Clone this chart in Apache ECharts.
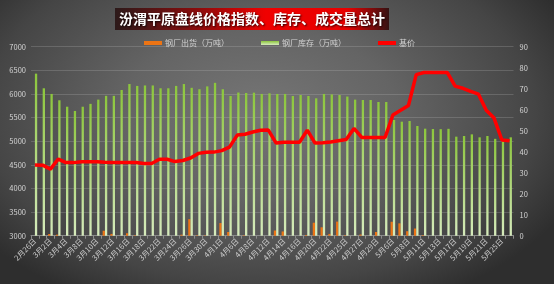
<!DOCTYPE html>
<html><head><meta charset="utf-8">
<script src="https://cdn.jsdelivr.net/npm/echarts@6/dist/echarts.min.js"></script>
<style>
html,body{margin:0;padding:0;}
#c{width:554px;height:284px;background:radial-gradient(ellipse 62% 75% at 47% 40%, #767676 0%, #646464 40%, #454545 80%, #2e2e2e 100%);}
</style></head><body>
<div id="c"></div>
<script>
const categories = ['2月26日','3月1日','3月2日','3月3日','3月4日','3月5日','3月8日','3月9日','3月10日','3月11日','3月12日','3月15日','3月16日','3月17日','3月18日','3月19日','3月22日','3月23日','3月24日','3月25日','3月26日','3月29日','3月30日','3月31日','4月1日','4月2日','4月6日','4月7日','4月8日','4月9日','4月12日','4月13日','4月14日','4月15日','4月16日','4月19日','4月20日','4月21日','4月22日','4月23日','4月25日','4月26日','4月27日','4月28日','4月29日','4月30日','5月6日','5月7日','5月8日','5月10日','5月11日','5月12日','5月13日','5月14日','5月17日','5月18日','5月19日','5月20日','5月21日','5月24日','5月25日','5月26日'];
const shipments = [3000,3000,3036,3022,3000,3000,3000,3000,3000,3105,
3038,3000,3052,3010,3000,3000,3000,3000,3000,3022,
3350,3010,3008,3000,3268,3078,3000,3010,3000,3000,
3000,3110,3090,3000,3000,3014,3275,3178,3038,3298,
3010,3000,3025,3000,3078,3000,3295,3262,3095,3152,
3012,3000,3000,3000,3000,3000,3000,3000,3000,3000,3000,3000];
const inventory = [6430,6120,6000,5866,5730,5640,5730,5790,5880,5960,
5960,6084,6210,6170,6180,6180,6120,6120,6170,6210,
6130,6100,6160,6235,6100,5957,6030,6020,6027,6000,
6013,6000,6000,5957,5978,5957,5908,6000,5990,5978,
5945,5880,5872,5872,5830,5830,5449,5413,5427,5322,
5265,5258,5255,5262,5096,5110,5145,5082,5110,5050,5040,5082];
const basePrice = [33.7,33.6,31.7,36.5,34.8,34.8,35.2,35.2,35.2,35.0,
34.9,34.9,34.9,34.9,34.4,34.4,36.4,36.4,35.3,35.8,
37.0,39.2,39.7,39.8,40.5,42.2,47.9,48.3,49.4,50.2,
50.3,44.1,44.5,44.5,44.5,50.3,44.1,44.3,44.6,45.2,
45.8,51.1,46.8,46.8,46.8,46.8,57.5,59.7,62.0,76.7,
77.7,77.7,77.7,77.7,71.2,70.2,68.7,67.4,59.7,56.0,45.6,45.2];
const leftTicks = {min:3000, max:7000, step:500};
const rightTicks = {min:0, max:90, step:10};
const titleText = '汾渭平原盘线价格指数、库存、成交量总计';
const names = ['钢厂出货（万吨）','钢厂库存（万吨）','基价'];

const FONT = '"Noto Sans CJK SC", sans-serif';
const chart = echarts.init(document.getElementById('c'), null, {renderer:'canvas'});
chart.setOption({
  backgroundColor: 'transparent',
  animation: false,
  textStyle: {fontFamily: FONT},
  title: {
    text: titleText,
    left: 115, top: 8,
    padding: [4, 4, 4, 4],
    backgroundColor: {type:'linear', x:0, y:0, x2:1, y2:0, colorStops:[
      {offset:0, color:'#2c1a1a'},{offset:0.3, color:'#8a0c0c'},{offset:0.55, color:'#f00000'},
      {offset:0.85, color:'#e80000'},{offset:1, color:'#341212'}]},
    textStyle: {color:'#fff', fontSize:14, fontWeight:'bold', fontFamily:FONT,
      textShadowColor:'rgba(0,0,0,0.8)', textShadowBlur:2, textShadowOffsetX:1, textShadowOffsetY:1}
  },
  legend: {
    data: names,
    left: 139, top: 34,
    icon: 'rect', itemWidth: 18, itemHeight: 4, itemGap: 32,
    textStyle: {color:'#d4d4d4', fontSize:8, fontFamily:FONT, padding:[0,0,0,-2]}
  },
  grid: {left:31, right:40.5, top:46.7, bottom:48.3, containLabel:false, outerBoundsMode:'none'},
  xAxis: {
    type: 'category', data: categories, boundaryGap: true,
    axisLine: {lineStyle:{color:'#8a8a8a'}},
    axisTick: {show:true, interval:0, length:3, lineStyle:{color:'#8a8a8a'}},
    axisLabel: {interval:1, rotate:45, color:'#cfcfcf', fontSize:7.5, margin:4, fontFamily:FONT},
    splitLine: {show:false}
  },
  yAxis: [
    {type:'value', min:leftTicks.min, max:leftTicks.max, interval:leftTicks.step,
     axisLine:{show:false}, axisTick:{show:false},
     axisLabel:{color:'#d4d4d4', fontSize:7.5, margin:5, fontFamily:FONT, formatter: v => String(v)},
     splitLine:{lineStyle:{color:'rgba(200,200,200,0.22)', width:1}}},
    {type:'value', min:rightTicks.min, max:rightTicks.max, interval:rightTicks.step,
     axisLine:{show:false}, axisTick:{show:false},
     axisLabel:{color:'#d4d4d4', fontSize:7.5, margin:6, fontFamily:FONT, formatter: v => String(v)},
     splitLine:{show:false}}
  ],
  series: [
    {name:names[0], type:'bar', yAxisIndex:0, data:shipments, barWidth:2.3, barGap:'0%',
     clip:true, itemStyle:{color:'#ec7414'}},
    {name:names[1], type:'bar', yAxisIndex:0, data:inventory, barWidth:2.3, barGap:'0%',
     clip:true, itemStyle:{color:{type:'linear', x:0, y:0, x2:0, y2:1, colorStops:[
       {offset:0, color:'#8cc63c'},{offset:1, color:'#d6ebbd'}]}}},
    {name:names[2], type:'line', yAxisIndex:1, data:basePrice, symbol:'none',
     lineStyle:{color:'#ff0000', width:3.5}, itemStyle:{color:'#ff0000'}, z:5}
  ]
});
</script>
</body></html>
